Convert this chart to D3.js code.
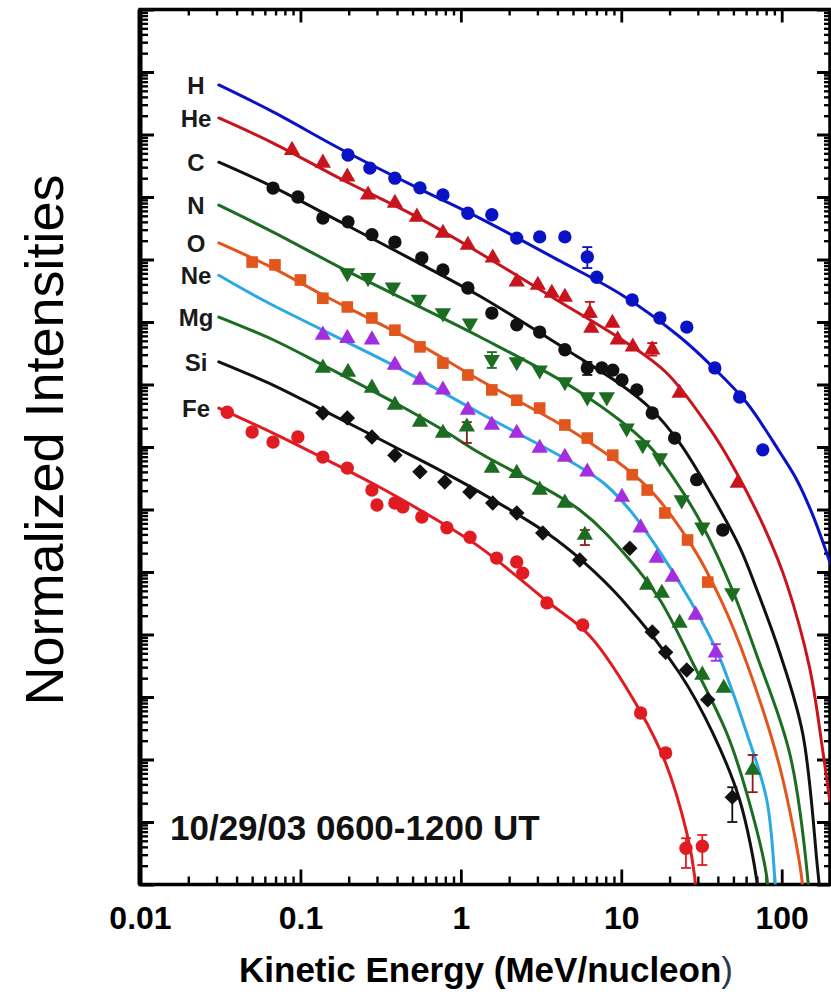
<!DOCTYPE html>
<html>
<head>
<meta charset="utf-8">
<script src="https://cdn.jsdelivr.net/npm/d3@7"></script>
<style>
  body { margin: 0; background: #fff; }
  svg { display: block; }
  text { font-family: "Liberation Sans", Arial, Helvetica, sans-serif; }
</style>
</head>
<body>
<svg id="chart" width="831" height="1001"></svg>
<script>
// ---- Event spectra, 10/29/03 0600-1200 UT ----
// Energies in MeV/nucleon, intensities normalized (arbitrary units, offset per species)

const speciesNames = ["H", "He", "C", "N", "O", "Ne", "Mg", "Si", "Fe"];
const xTickValues = [0.01, 0.1, 1, 10, 100];
const xTickLabels = ["0.01", "0.1", "1", "10", "100"];

// Fitted spectra [energy, intensity]
const fitH  = [[0.031,6.2e12],[0.0675,2.3e12],[0.184,5.6e11],[0.556,1.34e11],[1.31,4.6e10],[4.14,9.5e9],[10.1,2.7e9],[23.1,5.8e8],[37.2,1.9e8],[60.5,5.1e7],[97.2,8.3e6],[124,3.0e6],[156,8.2e5],[191,2.0e5],[202,1.3e5]];
const fitHe = [[0.031,1.84e12],[0.0675,7.3e11],[0.184,1.87e11],[0.532,4.8e10],[1.31,1.27e10],[3.96,2.25e9],[10.1,5.2e8],[19.2,1.53e8],[37.2,1.67e7],[52.5,3.8e6],[80.7,4.2e5],[107,6.7e4],[149,3.0e3],[180,142],[199,22.5]];
const fitC  = [[0.031,3.6e11],[0.0675,1.45e11],[0.184,3.8e10],[0.532,9.1e9],[1.31,2.6e9],[5.51,2.65e8],[9.8,1.02e8],[15.1,4.2e7],[23.1,1.16e7],[37.2,1.58e6],[54.7,2.5e5],[69.8,5.3e4],[97.2,5.1e3],[135,265],[167,1.9],[175,0.56]];
const fitN  = [[0.031,7.4e10],[0.0675,2.75e10],[0.196,6.5e9],[0.556,1.74e9],[1.31,5.8e8],[5.51,7.6e7],[14.5,1.12e7],[21.5,3.0e6],[32.0,5.6e5],[49.2,5.2e4],[69.8,4.7e3],[112,127],[145,1.32],[147,0.68]];
const fitO  = [[0.031,1.84e10],[0.0675,7.3e9],[0.138,2.7e9],[0.279,1.08e9],[0.556,4.3e8],[1.31,1.18e8],[5.51,1.5e7],[14.5,2.3e6],[27.9,2.5e5],[41.7,3.6e4],[60.5,3.5e3],[97.2,76],[133,1.32],[135,0.68]];
const fitNe = [[0.031,5.6e9],[0.0583,2.25e9],[0.138,7.4e8],[0.399,1.9e8],[1.31,3.5e7],[5.51,4.8e6],[7.89,2.56e6],[11.3,9.8e5],[17.4,2.1e5],[26.7,3.6e4],[39.4,5.4e3],[60.5,265],[80.7,22.5],[90.4,1.32],[91.8,0.68]];
const fitMg = [[0.031,1.2e9],[0.0675,5.2e8],[0.138,2.05e8],[0.388,5.1e7],[0.773,1.87e7],[1.31,8.0e6],[5.51,9.8e5],[11.3,1.56e5],[17.4,3.6e4],[27.9,3.5e3],[45.4,265],[60.5,29],[80.7,1.32],[81.8,0.68]];
const fitSi = [[0.031,2.3e8],[0.0675,9.8e7],[0.138,3.9e7],[0.388,1.0e7],[0.773,4.0e6],[1.31,1.9e6],[3.44,4.2e5],[5.93,1.39e5],[10.1,3.6e4],[23.1,2.4e3],[37.2,265],[54.7,22.5],[69.8,1.18],[70.8,0.68]];
const fitFe = [[0.031,4.2e7],[0.0675,1.67e7],[0.138,6.7e6],[0.279,2.65e6],[0.556,9.8e5],[1.31,2.5e5],[3.44,3.4e4],[6.37,9.5e3],[13.0,620],[18.9,88],[25.6,6.7],[28.7,1.32],[29.1,0.68]];

// Measured intensities [energy, intensity]
const obsH  = [[0.198,4.7e11],[0.271,2.9e11],[0.388,2.0e11],[0.556,1.4e11],[0.773,1.08e11],[1.106,5.5e10],[1.56,5.2e10],[2.23,2.2e10],[3.1,2.3e10],[4.45,2.3e10],[6.14,1.1e10],[7.03,5.2e9],[11.7,2.25e9],[17.4,1.16e9],[25.6,8.3e8],[38.3,1.84e8],[54.7,6.3e7],[76.2,9.0e6]];
const obsHe = [[0.0886,5.6e11],[0.138,3.5e11],[0.196,2.1e11],[0.264,1.08e11],[0.388,8.0e10],[0.532,4.8e10],[0.773,2.65e10],[1.106,1.7e10],[1.58,1.06e10],[2.23,4.4e9],[3.02,3.9e9],[3.69,2.9e9],[4.45,2.5e9],[6.37,1.39e9],[6.5,8.0e8],[8.8,9.6e8],[9.5,5.2e8],[11.8,4.0e8],[15.6,3.6e8],[23.1,7.3e7],[53.2,2.65e6]];
const obsC  = [[0.0675,1.39e11],[0.0964,1.0e11],[0.138,4.6e10],[0.198,4.0e10],[0.279,2.5e10],[0.388,1.9e10],[0.571,1.06e10],[0.773,6.8e9],[1.106,3.5e9],[1.56,1.39e9],[2.23,9.0e8],[3.1,6.9e8],[4.45,3.6e8],[6.14,1.84e8],[7.56,1.84e8],[8.85,1.7e8],[10.1,1.18e8],[12.5,8.2e7],[15.6,3.5e7],[21.5,1.39e7],[29.5,3.0e6],[42.9,4.7e5]];
const obsN  = [[0.196,6.1e9],[0.264,5.1e9],[0.377,3.6e9],[0.547,2.3e9],[0.773,1.39e9],[1.14,9.6e8],[1.56,2.5e8],[2.23,2.3e8],[3.1,1.7e8],[4.45,1.1e8],[6.14,6.3e7],[8.12,6.3e7],[10.8,2.0e7],[13.6,1.08e7],[17.4,6.7e6],[23.8,1.42e6],[32.0,5.2e5],[49.2,4.6e4]];
const obsO  = [[0.05,9.1e9],[0.0694,8.2e9],[0.1,4.7e9],[0.138,2.4e9],[0.196,1.74e9],[0.279,1.16e9],[0.388,7.4e8],[0.556,4.0e8],[0.773,2.2e8],[1.106,1.42e8],[1.56,8.2e7],[2.23,5.6e7],[3.1,4.2e7],[4.45,2.25e7],[6.14,1.39e7],[8.85,7.4e6],[11.7,3.6e6],[14.5,2.05e6],[18.7,8.8e5],[25.9,3.25e5],[34.6,6.9e4]];
const obsNe = [[0.138,6.2e8],[0.196,5.5e8],[0.279,5.2e8],[0.388,2.05e8],[0.556,1.18e8],[0.773,8.2e7],[1.106,3.9e7],[1.56,2.25e7],[2.23,1.67e7],[3.1,9.6e6],[4.45,6.9e6],[6.14,4.0e6],[10.1,1.58e6],[13.2,5.1e5],[16.6,1.67e5],[20.9,8.3e4],[29.1,2.05e4],[38.8,5.1e3]];
const obsMg = [[0.138,1.84e8],[0.198,1.58e8],[0.279,8.8e7],[0.388,4.7e7],[0.556,2.5e7],[0.773,1.67e7],[1.09,2.1e7],[1.56,4.6e6],[2.23,3.8e6],[3.1,2.05e6],[4.45,1.27e6],[5.93,3.9e5],[14.5,6.2e4],[17.9,4.6e4],[23.1,1.53e4],[32.0,2.25e3],[43.5,1.39e3],[65.9,68]];
const obsSi = [[0.138,3.5e7],[0.196,2.9e7],[0.279,1.45e7],[0.388,7.4e6],[0.556,4.0e6],[0.794,2.75e6],[1.14,1.9e6],[1.58,1.27e6],[2.23,8.8e5],[3.24,4.2e5],[5.51,1.56e5],[11.3,2.4e5],[15.6,1.1e4],[18.9,5.2e3],[25.6,2.7e3],[34.6,900],[49.2,25]];
const obsFe = [[0.035,3.6e7],[0.05,1.74e7],[0.0675,1.2e7],[0.0964,1.45e7],[0.138,6.9e6],[0.196,4.6e6],[0.279,2.05e6],[0.30,1.18e6],[0.388,1.27e6],[0.435,1.1e6],[0.571,7.6e5],[0.818,5.1e5],[1.14,3.6e5],[1.67,1.67e5],[2.23,1.45e5],[2.43,9.6e4],[3.44,3.2e4],[5.75,1.42e4],[13.2,555],[18.9,127],[25.3,3.8],[32.0,4.1]];

// Uncertainties [energy, low, high]
const errH  = [[6.14,7.3e9,1.58e10]];
const errHe = [[6.37,1.2e9,2.1e9],[15.6,2.9e8,4.6e8]];
const errC  = [[6.14,1.42e8,2.3e8]];
const errN  = [[1.56,1.84e8,3.3e8]];
const errO  = [];
const errNe = [[38.8,3.8e3,7.0e3]];
const errMg = [[1.09,1.16e7,2.5e7],[5.93,2.7e5,4.7e5],[65.9,30,118]];
const errSi = [[49.2,10,36]];
const errFe = [[18.9,110,148],[25.3,1.84,5.5],[32.0,2.05,6.2]];

const fits = [fitH, fitHe, fitC, fitN, fitO, fitNe, fitMg, fitSi, fitFe];
const obs  = [obsH, obsHe, obsC, obsN, obsO, obsNe, obsMg, obsSi, obsFe];
const errs = [errH, errHe, errC, errN, errO, errNe, errMg, errSi, errFe];

// Appearance per species
const lineColors   = ["#0a12c6", "#c8141c", "#111111", "#1c6c22", "#e2561e", "#2aa9e2", "#1c6c22", "#111111", "#e01c22"];
const markerColors = ["#0a12c6", "#c8141c", "#111111", "#1c6c22", "#e2561e", "#a22ee0", "#1c6c22", "#111111", "#e01c22"];
const errColors    = ["#0a12c6", "#c8141c", "#111111", "#1c6c22", "#e2561e", "#a22ee0", "#8e1a1a", "#111111", "#e01c22"];
const markerShapes = ["circle", "triangleUp", "circle", "triangleDown", "square", "triangleUp", "triangleUp", "diamond", "circle"];

const svg = d3.select("#chart");
const L = 140, R = 830, T = 9.5, B = 884.5;

const x = d3.scaleLog().domain([0.01, 200]).range([L, R]);
const y = d3.scaleLog().domain([1, 1e14]).range([B, T]);

// Clip region for the fitted curves
svg.append("defs").append("clipPath").attr("id", "plotClip")
  .append("rect").attr("x", L).attr("y", T).attr("width", R - L).attr("height", B - T);

// ---- Ticks on all four sides ----
const xMinor = x.ticks().filter(v => !xTickValues.some(m => Math.abs(m - v) / m < 1e-9));
const yMajor = d3.range(0, 15).map(k => Math.pow(10, k));
const yMinor = d3.range(0, 14).flatMap(k => d3.range(2, 10).map(m => m * Math.pow(10, k)));

function tickSet(translate, axisFn, scale, values, size, width) {
  const g = svg.append("g").attr("transform", translate)
    .call(axisFn(scale).tickValues(values).tickSize(size).tickFormat(""));
  g.select(".domain").remove();
  g.selectAll(".tick line").attr("stroke", "#000").attr("stroke-width", width);
}
tickSet(`translate(0,${B})`, d3.axisTop, x, xMinor, 8, 2.4);
tickSet(`translate(0,${B})`, d3.axisTop, x, xTickValues, 15, 2.8);
tickSet(`translate(0,${T})`, d3.axisBottom, x, xMinor, 6, 2.4);
tickSet(`translate(0,${T})`, d3.axisBottom, x, xTickValues, 13, 2.8);
tickSet(`translate(${L},0)`, d3.axisRight, y, yMinor, 8, 2.4);
tickSet(`translate(${L},0)`, d3.axisRight, y, yMajor, 14, 3);
tickSet(`translate(${R},0)`, d3.axisLeft, y, yMinor, 6, 2.4);
tickSet(`translate(${R},0)`, d3.axisLeft, y, yMajor, 13, 3);

// Frame
svg.append("rect").attr("x", L).attr("y", T).attr("width", R - L).attr("height", B - T)
  .attr("fill", "none").attr("stroke", "#000").attr("stroke-width", 3.5);
svg.append("line").attr("x1", L).attr("x2", L).attr("y1", T).attr("y2", B)
  .attr("stroke", "#000").attr("stroke-width", 5);

// X tick labels
const xl = svg.append("g").attr("transform", `translate(0,${B})`)
  .call(d3.axisBottom(x).tickValues(xTickValues).tickSize(0).tickPadding(44)
    .tickFormat((d, i) => xTickLabels[i]));
xl.select(".domain").remove();
xl.selectAll("text").attr("font-size", 32).attr("font-weight", "bold")
  .attr("fill", "#000").attr("dy", 0)
  .style("font-family", '"Liberation Sans", Arial, Helvetica, sans-serif');

// Axis titles
const xt = svg.append("text").attr("x", 486).attr("y", 982).attr("text-anchor", "middle")
  .attr("font-size", 35).attr("font-weight", "bold").attr("fill", "#000");
xt.append("tspan").text("Kinetic Energy (MeV/nucleon");
xt.append("tspan").text(")").attr("font-weight", "normal").attr("fill", "#2b3854");

svg.append("text").attr("transform", "translate(63,440) rotate(-90)")
  .attr("text-anchor", "middle").attr("font-size", 54).attr("fill", "#000")
  .text("Normalized Intensities");

// ---- Fitted curves ----
const line = d3.line().x(d => x(d[0])).y(d => y(d[1])).curve(d3.curveCatmullRom.alpha(0.5));
const curves = svg.append("g").attr("clip-path", "url(#plotClip)");
fits.forEach((f, i) => {
  curves.append("path").datum(f).attr("d", line)
    .attr("fill", "none").attr("stroke", lineColors[i]).attr("stroke-width", 3)
    .attr("stroke-linejoin", "round").attr("stroke-linecap", "round");
});

// ---- Error bars ----
const eg = svg.append("g");
errs.forEach((list, i) => {
  list.forEach(e => {
    const cx = x(e[0]), y0 = y(e[1]), y1 = y(e[2]);
    eg.append("line").attr("x1", cx).attr("x2", cx).attr("y1", y0).attr("y2", y1)
      .attr("stroke", errColors[i]).attr("stroke-width", 1.8);
    [y0, y1].forEach(yy => eg.append("line").attr("x1", cx - 5).attr("x2", cx + 5)
      .attr("y1", yy).attr("y2", yy).attr("stroke", errColors[i]).attr("stroke-width", 1.8));
  });
});

// ---- Markers ----
const shapeGen = {
  circle:       { type: d3.symbolCircle,   size: 140, rot: 0 },
  triangleUp:   { type: d3.symbolTriangle, size: 115, rot: 0 },
  triangleDown: { type: d3.symbolTriangle, size: 115, rot: 180 },
  square:       { type: d3.symbolSquare,   size: 135, rot: 0 },
  diamond:      { type: d3.symbolSquare,   size: 120, rot: 45 }
};
const mg = svg.append("g");
obs.forEach((pts, i) => {
  const s = shapeGen[markerShapes[i]];
  const sym = d3.symbol().type(s.type).size(s.size);
  mg.append("g").selectAll("path").data(pts).join("path")
    .attr("d", sym)
    .attr("transform", d => `translate(${x(d[0])},${y(d[1])}) rotate(${s.rot})`)
    .attr("fill", markerColors[i]);
});

// ---- Species labels at the start of each curve ----
svg.append("g").selectAll("text").data(speciesNames).join("text")
  .attr("x", 196)
  .attr("y", (d, i) => y(fits[i][0][1]))
  .attr("dy", "0.36em")
  .attr("text-anchor", "middle")
  .attr("font-size", 24).attr("font-weight", "bold").attr("fill", "#1a1a1a")
  .text(d => d);

// Event interval annotation
svg.append("text").attr("x", 170).attr("y", 840)
  .attr("font-size", 35).attr("font-weight", "bold").attr("fill", "#111")
  .text("10/29/03 0600-1200 UT");
</script>
</body>
</html>
